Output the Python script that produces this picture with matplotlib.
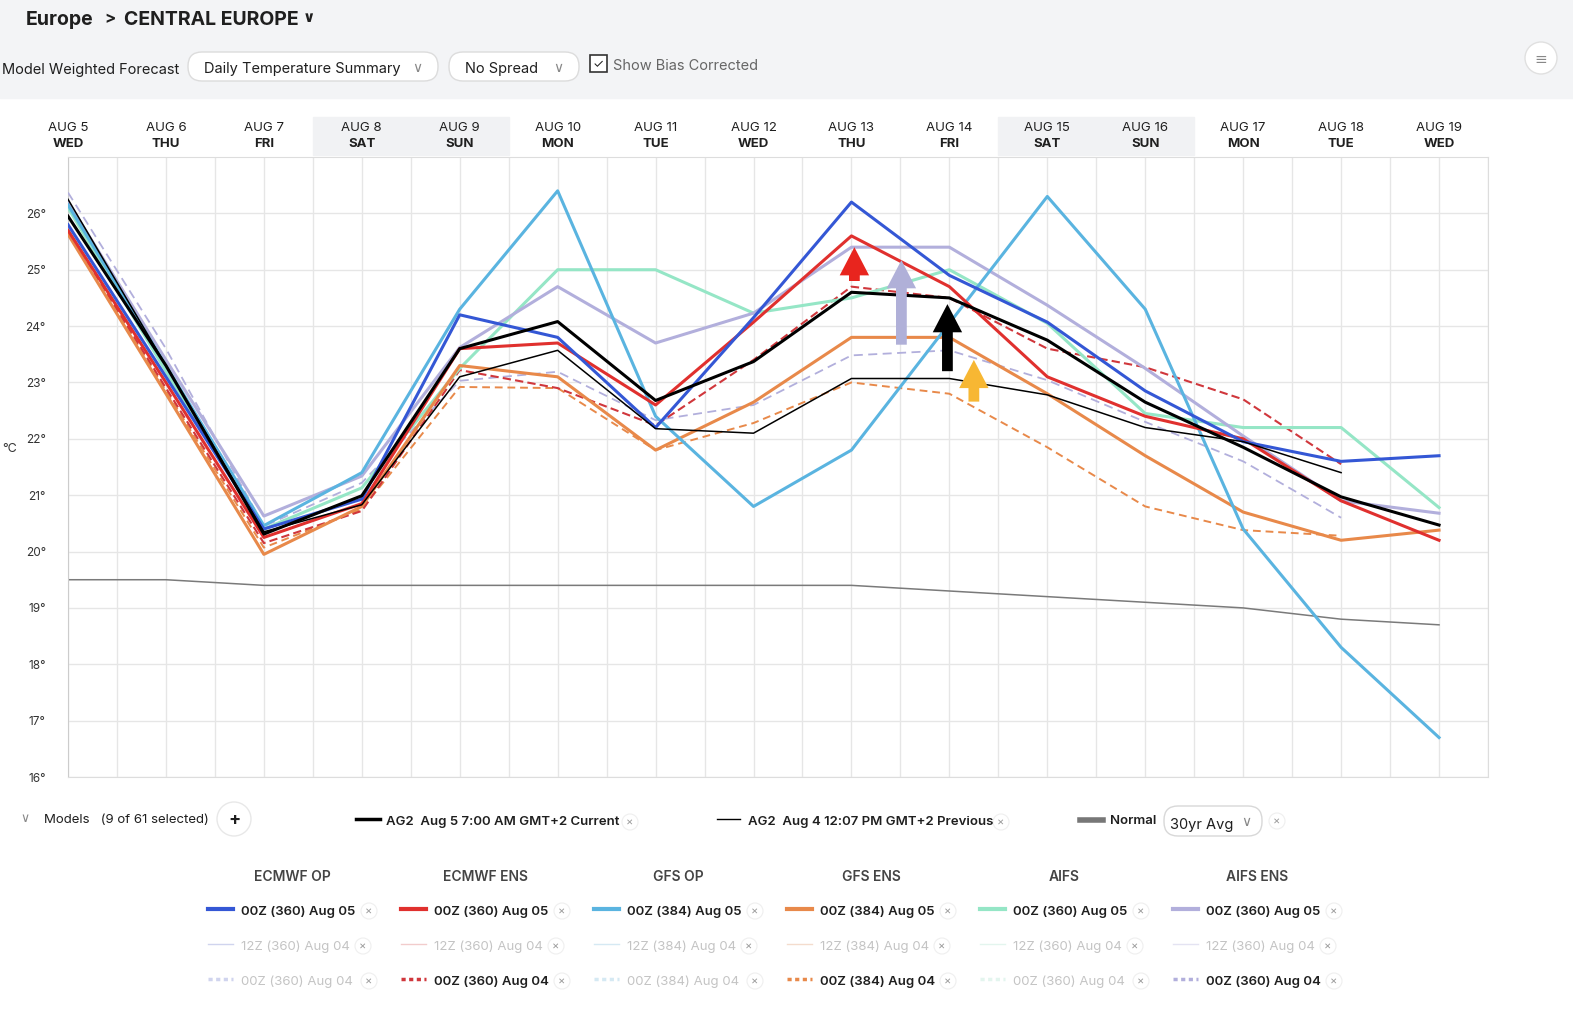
import numpy as np
import matplotlib
matplotlib.use('Agg')
import matplotlib.pyplot as plt
from matplotlib.patches import FancyBboxPatch, FancyArrow, Rectangle, Circle

plt.rcParams['font.family'] = ['Inter', 'DejaVu Sans']

# ---- dane ----
days = ['AUG 5', 'AUG 6', 'AUG 7', 'AUG 8', 'AUG 9', 'AUG 10', 'AUG 11', 'AUG 12',
        'AUG 13', 'AUG 14', 'AUG 15', 'AUG 16', 'AUG 17', 'AUG 18', 'AUG 19']
weekdays = ['WED', 'THU', 'FRI', 'SAT', 'SUN', 'MON', 'TUE', 'WED',
            'THU', 'FRI', 'SAT', 'SUN', 'MON', 'TUE', 'WED']
weekend_spans = [(2.5, 4.5), (9.5, 11.5)]

ecmwf_op = [25.8, 23.1, 20.4, 20.93, 24.2, 23.8, 22.2, 24.15, 26.2, 24.9, 24.07, 22.85, 21.95, 21.6, 21.7]
ecmwf_ens = [25.7, 23.0, 20.25, 20.85, 23.6, 23.7, 22.6, 24.07, 25.6, 24.7, 23.1, 22.4, 22.0, 20.9, 20.2]
ecmwf_ens_prev = [25.7, 22.9, 20.15, 20.72, 23.22, 22.9, 22.24, 23.4, 24.7, 24.5, 23.6, 23.27, 22.7, 21.55, None]
gfs_op = [26.15, 23.3, 20.46, 21.4, 24.3, 26.4, 22.4, 20.8, 21.8, 24.05, 26.3, 24.3, 20.4, 18.3, 16.7]
gfs_ens = [25.63, 22.8, 19.95, 20.8, 23.3, 23.1, 21.8, 22.65, 23.8, 23.8, 22.8, 21.7, 20.7, 20.2, 20.38]
gfs_ens_prev = [25.7, 22.85, 20.07, 20.75, 22.92, 22.9, 21.8, 22.28, 23.0, 22.8, 21.85, 20.8, 20.38, 20.28, None]
aifs = [26.1, 23.2, 20.4, 21.13, 23.25, 25.0, 25.0, 24.23, 24.5, 25.0, 24.05, 22.45, 22.2, 22.2, 20.78]
aifs_ens = [26.2, 23.4, 20.63, 21.34, 23.62, 24.7, 23.7, 24.23, 25.4, 25.4, 24.37, 23.25, 22.05, 20.9, 20.68]
aifs_ens_prev = [26.37, 23.6, 20.45, 21.22, 23.03, 23.19, 22.33, 22.6, 23.48, 23.57, 23.04, 22.3, 21.6, 20.6, None]
ag2_current = [25.95, 23.3, 20.31, 20.99, 23.6, 24.08, 22.68, 23.37, 24.6, 24.5, 23.75, 22.65, 21.85, 20.97, 20.47]
ag2_previous = [26.25, 23.3, 20.35, 20.83, 23.1, 23.57, 22.18, 22.1, 23.07, 23.07, 22.78, 22.2, 21.95, 21.4, None]
normal = [19.5, 19.5, 19.4, 19.4, 19.4, 19.4, 19.4, 19.4, 19.4, 19.3, 19.2, 19.1, 19.0, 18.8, 18.7]

# strzalki: (x, ogon, grot, kolor)
arrows = [(8.03, 24.8, 25.4, '#e8251e'),
          (8.51, 23.67, 25.17, '#b0b0d8'),
          (8.98, 23.2, 24.39, '#000000'),
          (9.25, 22.66, 23.4, '#f7b733')]

models = ['ECMWF OP', 'ECMWF ENS', 'GFS OP', 'GFS ENS', 'AIFS', 'AIFS ENS']
runs = ['(360)', '(360)', '(384)', '(384)', '(360)', '(360)']
colors = ['#3457d5', '#e0302e', '#5ab4e0', '#e8894a', '#95e6c6', '#b2afdc']
faint = ['#d0d4ee', '#f2cccc', '#d5e9f3', '#f4dccd', '#e3f5ee', '#e4e3f2']
prev_shown = [False, True, False, True, False, True]

# ---- figura ----
fig = plt.figure(figsize=(15.73, 10.18), dpi=100)
fig.patch.set_facecolor('white')

bg = fig.add_axes([0, 0, 1, 1])
bg.set_xlim(0, 1573)
bg.set_ylim(1018, 0)
bg.axis('off')
bg.add_patch(Rectangle((0, 0), 1573, 98, color='#f3f4f6', zorder=0))

dark = '#1f1f1f'
# naglowek
bg.text(26, 20, 'Europe', fontsize=14, fontweight='bold', color=dark, va='center')
bg.text(104, 19, '>', fontsize=12, fontweight='bold', color=dark, va='center')
bg.text(124, 20, 'CENTRAL EUROPE', fontsize=14, fontweight='bold', color=dark, va='center')
bg.text(303, 17, '∨', fontsize=11, fontweight='bold', color=dark, va='center')

bg.text(2, 70, 'Model Weighted Forecast', fontsize=10.5, color=dark, va='center')
for x0, x1, label in [(188, 438, 'Daily Temperature Summary'), (449, 579, 'No Spread')]:
    bg.add_patch(FancyBboxPatch((x0, 52), x1 - x0, 29, boxstyle='round,pad=0,rounding_size=14',
                                fc='white', ec='#dcdcdc', lw=1))
    bg.text(x0 + 16, 69, label, fontsize=10.5, color=dark, va='center')
    bg.text(x1 - 26, 68, '∨', fontsize=10, color='#888888', va='center')
bg.add_patch(Rectangle((590, 55), 17, 17, fc='white', ec='#333333', lw=1.2))
bg.text(598.5, 65, '✓', fontsize=9, color=dark, va='center', ha='center')
bg.text(613, 66, 'Show Bias Corrected', fontsize=10.5, color='#666666', va='center')
bg.add_patch(Circle((1541, 58), 16, fc='white', ec='#e0e0e0', lw=1))
bg.text(1541, 59, '≡', fontsize=11, color='#888888', va='center', ha='center')
bg.text(2, 449, '°C', fontsize=9, color='#333333', va='center')

# wykres
ax = fig.add_axes([68 / 1573, 1 - 777 / 1018, 1420 / 1573, 620 / 1018])
ax.set_xlim(0, 14.5)
ax.set_ylim(16, 27)
ax.set_xticks(np.arange(0, 14.51, 0.5))
ax.set_xticklabels([])
ax.set_yticks(range(16, 27))
ax.set_yticklabels([f'{v}°' for v in range(16, 27)])
ax.tick_params(axis='x', length=0)
ax.tick_params(axis='y', length=0, pad=16, labelsize=8.5, labelcolor='#333333')
ax.grid(color='#e6e6e6', lw=1)
ax.set_axisbelow(True)
for s in ax.spines.values():
    s.set_color('#dddddd')
ax.spines['left'].set_color('#cccccc')

xt = ax.get_xaxis_transform()
for a, b in weekend_spans:
    ax.add_patch(Rectangle((a, 1.003), b - a, 0.062, transform=xt, color='#f1f2f4', clip_on=False, zorder=0))
for i, (d, w) in enumerate(zip(days, weekdays)):
    ax.text(i, 1.046, d, transform=xt, ha='center', va='center', fontsize=9.5, color=dark)
    ax.text(i, 1.021, w, transform=xt, ha='center', va='center', fontsize=9.5, fontweight='bold', color=dark)

x = np.arange(len(days))


def arr(v):
    return np.array(v, dtype=float)


ax.plot(x, arr(normal), color='#7a7a7a', lw=1.1, zorder=2)
ax.plot(x, arr(aifs_ens_prev), color='#b2afdc', lw=1.3, ls=(0, (5, 3)), zorder=3)
ax.plot(x, arr(gfs_ens_prev), color='#e8894a', lw=1.4, ls=(0, (4, 2.5)), zorder=3)
ax.plot(x, arr(ecmwf_ens_prev), color='#d0373c', lw=1.5, ls=(0, (4, 2)), zorder=3)
ax.plot(x, arr(aifs), color=colors[4], lw=2.2, zorder=4)
ax.plot(x, arr(aifs_ens), color=colors[5], lw=2.2, zorder=4)
ax.plot(x, arr(gfs_ens), color=colors[3], lw=2.2, zorder=4)
ax.plot(x, arr(gfs_op), color=colors[2], lw=2.2, zorder=4)
ax.plot(x, arr(ecmwf_ens), color=colors[1], lw=2.2, zorder=5)
ax.plot(x, arr(ecmwf_op), color=colors[0], lw=2.2, zorder=5)
ax.plot(x, arr(ag2_previous), color='black', lw=1.1, zorder=6)
ax.plot(x, arr(ag2_current), color='black', lw=2.2, zorder=7)

for ax_x, y0, y1, c in arrows:
    ax.add_patch(FancyArrow(ax_x, y0, 0, y1 - y0, width=0.11, head_width=0.3, head_length=0.5,
                            length_includes_head=True, color=c, lw=0, zorder=8))

# legenda
bg.text(20, 819, '∨', fontsize=9, color='#888888', va='center')
bg.text(44, 820, 'Models   (9 of 61 selected)', fontsize=9.5, color=dark, va='center')
bg.add_patch(Circle((234, 819), 17, fc='white', ec='#e8e8e8', lw=1))
bg.text(234, 821, '+', fontsize=13, fontweight='bold', color=dark, va='center', ha='center')


def xmark(xc, yc):
    bg.add_patch(Circle((xc, yc), 8, fc='white', ec='#efefef', lw=0.8))
    bg.text(xc, yc + 1, '×', fontsize=8, color='#999999', va='center', ha='center')


bg.plot([356, 380], [819, 819], color='black', lw=2.5)
bg.text(386, 822, 'AG2  Aug 5 7:00 AM GMT+2 Current', fontsize=9.5, fontweight='semibold', color=dark, va='center')
xmark(630, 822)
bg.plot([717, 740], [819, 819], color='black', lw=1)
bg.text(748, 822, 'AG2  Aug 4 12:07 PM GMT+2 Previous', fontsize=9.5, fontweight='semibold', color=dark, va='center')
xmark(1001, 822)
bg.plot([1080, 1103], [820, 820], color='#777777', lw=4)
bg.text(1110, 821, 'Normal', fontsize=9.5, fontweight='semibold', color=dark, va='center')
bg.add_patch(FancyBboxPatch((1164, 806), 98, 30, boxstyle='round,pad=0,rounding_size=14',
                            fc='white', ec='#d8d8d8', lw=1))
bg.text(1170, 825, '30yr Avg', fontsize=10.5, color=dark, va='center')
bg.text(1241, 822, '∨', fontsize=10, color='#888888', va='center')
xmark(1277, 821)

for k, (m, r) in enumerate(zip(models, runs)):
    off = 193 * k
    bg.text(292 + off, 877, m, fontsize=10, fontweight='semibold', color='#444444', ha='center', va='center')
    # biezacy przebieg
    bg.plot([208 + off, 233 + off], [909, 909], color=colors[k], lw=3)
    bg.text(241 + off, 912, f'00Z {r} Aug 05', fontsize=9.5, fontweight='semibold', color=dark, va='center')
    xmark(369 + off, 911)
    # 12Z
    bg.plot([208 + off, 233 + off], [944, 944], color=faint[k], lw=1)
    bg.text(241 + off, 947, f'12Z {r} Aug 04', fontsize=9.5, color='#c4c4c4', va='center')
    xmark(363 + off, 946)
    # 00Z poprzedni
    lc = colors[k] if prev_shown[k] else faint[k]
    if k == 1:
        lc = '#d0373c'
    bg.plot([208 + off, 233 + off], [979, 979], color=lc, lw=2.5, ls=(0, (1.2, 1)))
    tc = dark if prev_shown[k] else '#c4c4c4'
    tw = 'semibold' if prev_shown[k] else 'normal'
    bg.text(241 + off, 982, f'00Z {r} Aug 04', fontsize=9.5, fontweight=tw, color=tc, va='center')
    xmark(369 + off, 981)

fig.savefig('out.png', dpi=100)
